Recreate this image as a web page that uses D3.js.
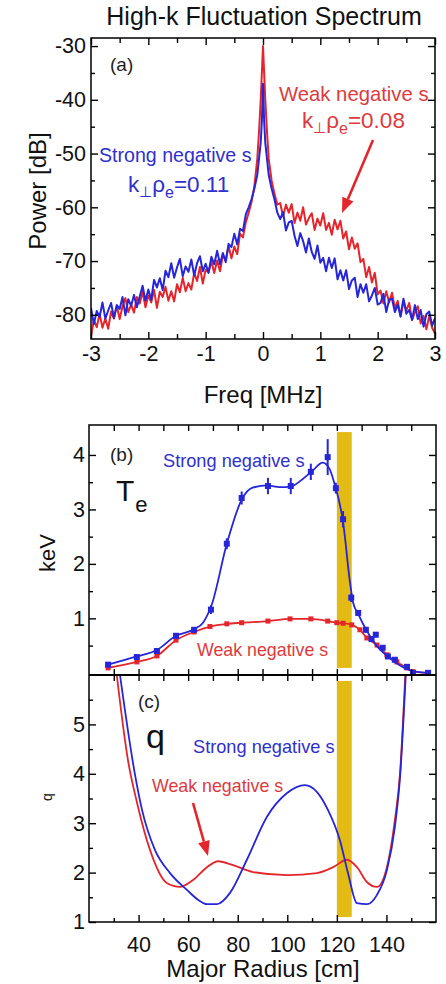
<!DOCTYPE html>
<html>
<head>
<meta charset="utf-8">
<script src="https://cdn.jsdelivr.net/npm/d3@7"></script>
<style>
  body { margin: 0; background: #fff; }
  svg { display: block; font-family: "Liberation Sans", Arial, Helvetica, sans-serif; }
</style>
</head>
<body>
<div id="chart"></div>
<script>
// ---- panel (a): high-k fluctuation spectrum ----
var freq = [
  -3, -2.95, -2.9, -2.85, -2.8, -2.75, -2.7, -2.65, -2.6, -2.55,
  -2.5, -2.45, -2.4, -2.35, -2.3, -2.25, -2.2, -2.15, -2.1, -2.05,
  -2, -1.95, -1.9, -1.85, -1.8, -1.75, -1.7, -1.65, -1.6, -1.55,
  -1.5, -1.45, -1.4, -1.35, -1.3, -1.25, -1.2, -1.15, -1.1, -1.05,
  -1, -0.95, -0.9, -0.85, -0.8, -0.75, -0.7, -0.65, -0.6, -0.55,
  -0.5, -0.45, -0.4, -0.35, -0.3,
  -0.25, -0.2, -0.15, -0.1, -0.07, -0.04, -0.02, 0, 0.02, 0.04, 0.07, 0.1, 0.15, 0.2, 0.25,
  0.3, 0.35, 0.4, 0.45, 0.5, 0.55, 0.6, 0.65, 0.7, 0.75,
  0.8, 0.85, 0.9, 0.95, 1, 1.05, 1.1, 1.15, 1.2, 1.25,
  1.3, 1.35, 1.4, 1.45, 1.5, 1.55, 1.6, 1.65, 1.7, 1.75,
  1.8, 1.85, 1.9, 1.95, 2, 2.05, 2.1, 2.15, 2.2, 2.25,
  2.3, 2.35, 2.4, 2.45, 2.5, 2.55, 2.6, 2.65, 2.7, 2.75,
  2.8, 2.85, 2.9, 2.95, 3
];
// weak negative shear (red)
var powerWeak = [
  -84, -81, -82.3, -79.8, -82.4, -80.7, -82.6, -79.4, -80.7, -78.3,
  -80.8, -78.4, -76.9, -79.5, -78.1, -79.6, -76.7, -77.9, -75.7, -78.6,
  -76.4, -77.7, -75.4, -78.7, -75.7, -76.7, -74.8, -77.4, -75.6, -77.5,
  -74.3, -75.8, -73.1, -75.6, -74.1, -75.3, -72.2, -73.7, -71.1, -74.2,
  -71.6, -72.1, -70.1, -72.2, -69.9, -71.9, -68.9, -69.8, -67.2, -69.5,
  -67.3, -68.7, -64.9, -65.6, -62.8,
  -61, -59, -56, -51, -46, -40, -35, -30, -35, -40, -46, -51, -55, -57.5, -59.5,
  -59.2, -61.7, -59.5, -61, -59.4, -62.9, -61, -62.5, -60, -63.2,
  -62, -61.1, -64.2, -62.1, -63.4, -61.1, -64.2, -62.9, -65.1, -62.3,
  -64.1, -62.5, -65.8, -64.5, -67.8, -65.6, -67.7, -66.7, -70.2, -69.6,
  -73, -71.1, -74, -72.2, -76.2, -75.5, -77.9, -75.6, -77.7, -75.9,
  -78.8, -77.4, -80.3, -77.4, -79.2, -77.8, -81, -79.5, -78.4, -81.6,
  -80.2, -82.7, -80.2, -82.4, -83.5
];
// strong negative shear (blue)
var powerStrong = [
  -78.7, -81.7, -79.3, -80.4, -77.7, -80.7, -79.2, -77.8, -80.6, -78.2,
  -78.9, -76.7, -80.1, -77.1, -78.3, -76.3, -78.6, -76.6, -74.6, -77.4,
  -75.3, -77.2, -73.5, -74.9, -73.2, -75.4, -71.8, -73, -70.4, -73.1,
  -71.2, -69.6, -72.8, -71, -72, -69.7, -72.7, -70.4, -69.1, -71.9,
  -70.5, -72.2, -69.2, -70.6, -68.1, -70.6, -68.5, -70.2, -66.8, -67.4,
  -64.9, -66.9, -64, -64.4, -61.3,
  -60, -58.5, -56.5, -54, -51, -48, -44, -37, -44, -48, -51, -54, -56.5, -58.5, -61,
  -62.2, -60.9, -64.3, -62.8, -62.5, -65.3, -67.2, -64.8, -66.3, -68.4,
  -65.8, -68.3, -69.6, -67.1, -70.3, -69.4, -71.9, -69.4, -71.3, -69.5,
  -73.4, -71.7, -73.6, -71.7, -75.2, -73.6, -73.1, -76.7, -74.3, -75.9,
  -74.3, -77.5, -76.4, -75, -78.1, -77.8, -76.1, -79.5, -77.2, -77,
  -79.5, -78.1, -80.3, -77, -79.8, -79.1, -80.9, -78.2, -80.8, -79.1,
  -82.2, -79.9, -79.4, -82, -80.6
];
var freqMajor = [-3, -2, -1, 0, 1, 2, 3];
var freqMinor = [-2.5, -1.5, -0.5, 0.5, 1.5, 2.5];
var powerMajor = [-80, -70, -60, -50, -40, -30];
var powerMinor = [-75, -65, -55, -45, -35];

// ---- panel (b): electron temperature ----
var teRStrong = [27.7, 39.3, 47.4, 55.1, 62.4, 69.2, 75.6, 81.6, 92.2, 101.4, 109.5, 116.3, 119.6, 122.5, 125.8, 128.6, 131.7, 134, 135.7, 138.5, 140.6, 143.4, 148.3, 150.7, 156.8];
var teStrong = [0.15, 0.29, 0.4, 0.68, 0.79, 1.16, 2.37, 3.21, 3.43, 3.43, 3.69, 3.96, 3.39, 2.82, 1.38, 1.1, 0.79, 0.62, 0.7, 0.46, 0.3, 0.24, 0.11, 0, 0];
var teErrStrong = [0.03, 0.03, 0.04, 0.05, 0.05, 0.08, 0.1, 0.12, 0.15, 0.15, 0.15, 0.33, 0.1, 0.15, 0.08, 0.05, 0.05, 0.05, 0.05, 0.04, 0.03, 0.03, 0.02, 0.02, 0.02];
var fitRStrong = [27.7, 39.3, 47.4, 55.1, 62.4, 66, 69.5, 75.6, 81.6, 86, 92, 97, 101.4, 106, 110, 114.3, 117, 119, 122.5, 125.3, 126.5, 128.6, 131.7, 136, 140.6, 145, 150, 156];
var fitTeStrong = [0.15, 0.3, 0.42, 0.68, 0.8, 0.92, 1.25, 2.37, 3.18, 3.4, 3.44, 3.41, 3.42, 3.55, 3.7, 3.86, 3.75, 3.48, 2.77, 1.66, 1.3, 1.08, 0.8, 0.5, 0.3, 0.15, 0.04, 0];
var teRWeak = [27.7, 39.3, 47.4, 55.1, 62.4, 68.8, 75.6, 81.6, 92.2, 101.1, 109.5, 116.3, 120, 122.5, 126, 129.3, 132.1, 136.2, 140.2, 144.2, 148.3, 150.7, 156.8];
var teWeak = [0.09, 0.2, 0.31, 0.6, 0.75, 0.85, 0.9, 0.92, 0.95, 0.99, 0.99, 0.95, 0.92, 0.91, 0.88, 0.79, 0.64, 0.51, 0.33, 0.2, 0.09, 0.02, 0];
var teMajor = [1, 2, 3, 4];
var teMinor = [0.5, 1.5, 2.5, 3.5];

// ---- panel (c): safety factor q ----
var qRStrong = [32.5, 38.5, 41.4, 46.6, 52.7, 59.5, 64, 67.6, 71.6, 76.9, 83.7, 91.8, 99.9, 107.1, 112, 116.4, 121.2, 124.5, 128.1, 132.1, 136.2, 140.2, 143.4, 145.5, 147.8];
var qStrong = [6, 4, 3.27, 2.46, 1.99, 1.65, 1.45, 1.36, 1.36, 1.59, 2.26, 3.13, 3.61, 3.77, 3.63, 3.27, 2.66, 1.99, 1.38, 1.36, 1.55, 2.05, 2.92, 3.94, 6];
var qRWeak = [31.2, 35.7, 39.4, 44.6, 51.4, 56.7, 62, 67.6, 72.1, 78.2, 86.2, 99.9, 112, 118.5, 124.1, 128.1, 132.1, 136.2, 140.2, 143.4, 145.5, 147.6];
var qWeak = [6, 4.28, 3.41, 2.46, 1.79, 1.71, 1.85, 2.11, 2.23, 2.15, 2.01, 1.95, 1.99, 2.11, 2.26, 2.11, 1.81, 1.71, 2.11, 3.06, 4.02, 6];
var qMajor = [1, 2, 3, 4, 5];
var qMinor = [1.5, 2.5, 3.5, 4.5, 5.5];

var rMajor = [40, 60, 80, 100, 120, 140];
var rMinor = [30, 50, 70, 90, 110, 130, 150];
var rAll = [30, 40, 50, 60, 70, 80, 90, 100, 110, 120, 130, 140, 150];

// highlighted radial band (b: keV extent, c: q extent)
var bandR = [120, 126];
var bandTe = [0.09, 4.42];
var bandQ = [1.1, 5.88];

var RED = "#e4262c", BLUE = "#2626d8", REDTXT = "#de3a3e", BLUETXT = "#3030cc", GOLD = "#e2bb14";

var svg = d3.select("#chart").append("svg").attr("width", 446).attr("height", 984);

var xA = d3.scaleLinear().domain([-3, 3]).range([91, 435]);
var yA = d3.scaleLinear().domain([-84.5, -28.5]).range([339, 38]);
var xR = d3.scaleLinear().domain([20, 160]).range([89, 436]);
var yTe = d3.scaleLinear().domain([-0.04, 4.55]).range([675, 425]);
var yQ = d3.scaleLinear().domain([1, 6]).range([922, 675]);

// helper for the inward tick marks
function ticks(gen, scale, vals, size, fmt, tx, ty, pad) {
  var g = svg.append("g")
    .attr("transform", "translate(" + tx + "," + ty + ")")
    .call(gen(scale).tickValues(vals).tickSizeInner(size).tickSizeOuter(0)
      .tickPadding(pad || 6).tickFormat(fmt || function() { return ""; }));
  g.select(".domain").remove();
  g.attr("font-size", 21.5).attr("font-family", null);
  g.selectAll("line").attr("stroke", "#000").attr("stroke-width", 1.4);
  g.selectAll("text").attr("fill", "#111");
  return g;
}
function label(s) { return String(s); }

function clip(id, x0, y0, x1, y1) {
  svg.append("clipPath").attr("id", id).append("rect")
    .attr("x", x0).attr("y", y0).attr("width", x1 - x0).attr("height", y1 - y0);
}
clip("clipA", 91, 38, 435, 339);
clip("clipB", 89, 425, 436, 675);
clip("clipC", 89, 675, 436, 922);

function arrowHead(x0, y0, x1, y1, color) {
  var a = Math.atan2(y1 - y0, x1 - x0), L = 15, Wd = 6;
  var bx = x1 - L * Math.cos(a), by = y1 - L * Math.sin(a);
  svg.append("line").attr("x1", x0).attr("y1", y0).attr("x2", bx).attr("y2", by)
    .attr("stroke", color).attr("stroke-width", 2.6);
  svg.append("path")
    .attr("d", "M" + x1 + "," + y1 + "L" + (bx + Wd * Math.sin(a)) + "," + (by - Wd * Math.cos(a)) +
      "L" + (bx - Wd * Math.sin(a)) + "," + (by + Wd * Math.cos(a)) + "Z")
    .attr("fill", color);
}

// ================= panel (a) =================
svg.append("text").attr("x", 264).attr("y", 25).attr("text-anchor", "middle")
  .attr("font-size", 25).attr("fill", "#111").text("High-k Fluctuation Spectrum");

var specLine = function(vals) {
  return d3.line().x(function(d, i) { return xA(freq[i]); }).y(function(d) { return yA(d); })(vals);
};
var gA = svg.append("g").attr("clip-path", "url(#clipA)");
gA.append("path").attr("d", specLine(powerWeak)).attr("fill", "none")
  .attr("stroke", RED).attr("stroke-width", 2).attr("stroke-linejoin", "round");
gA.append("path").attr("d", specLine(powerStrong)).attr("fill", "none")
  .attr("stroke", BLUE).attr("stroke-width", 2).attr("stroke-linejoin", "round");

svg.append("rect").attr("x", 91).attr("y", 38).attr("width", 344).attr("height", 301)
  .attr("fill", "none").attr("stroke", "#000").attr("stroke-width", 1.5);
ticks(d3.axisLeft, yA, powerMajor, -7, label, 91, 0, 5);
ticks(d3.axisLeft, yA, powerMinor, -4, null, 91, 0);
ticks(d3.axisRight, yA, powerMajor, -7, null, 435, 0);
ticks(d3.axisRight, yA, powerMinor, -4, null, 435, 0);
ticks(d3.axisBottom, xA, freqMajor, -7, label, 0, 339, 7);
ticks(d3.axisBottom, xA, freqMinor, -5, null, 0, 339);
ticks(d3.axisTop, xA, freqMajor, -7, null, 0, 38);
ticks(d3.axisTop, xA, freqMinor, -5, null, 0, 38);

svg.append("text").attr("transform", "translate(46,191) rotate(-90)").attr("text-anchor", "middle")
  .attr("font-size", 24).attr("fill", "#111").text("Power [dB]");
svg.append("text").attr("x", 263).attr("y", 403).attr("text-anchor", "middle")
  .attr("font-size", 24).attr("fill", "#111").text("Freq [MHz]");

svg.append("text").attr("x", 110).attr("y", 71).attr("font-size", 19).attr("fill", "#222").text("(a)");
svg.append("text").attr("x", 279).attr("y", 101).attr("font-size", 20.3).attr("fill", REDTXT).text("Weak negative s");
svg.append("text").attr("x", 99).attr("y", 162).attr("font-size", 19.6).attr("fill", BLUETXT).text("Strong negative s");

function kRho(x, y, value, color) {
  var t = svg.append("text").attr("x", x).attr("y", y).attr("font-size", 22.5).attr("fill", color);
  t.append("tspan").text("k");
  t.append("tspan").attr("font-size", 15).attr("dy", 5).text("\u22A5");
  t.append("tspan").attr("dy", -5).text("\u03C1");
  t.append("tspan").attr("font-size", 16).attr("dy", 6).text("e");
  t.append("tspan").attr("dy", -6).text("=" + value);
}
kRho(302, 128, "0.08", REDTXT);
kRho(128, 192, "0.11", BLUETXT);
arrowHead(373, 140, 342, 213, RED);

// ================= panel (b) =================
svg.append("rect").attr("x", xR(bandR[0])).attr("width", xR(bandR[1]) - xR(bandR[0]))
  .attr("y", yTe(bandTe[1])).attr("height", yTe(bandTe[0]) - yTe(bandTe[1])).attr("fill", GOLD);

var gB = svg.append("g").attr("clip-path", "url(#clipB)");
var teLine = d3.line().curve(d3.curveMonotoneX);
gB.append("path")
  .attr("d", teLine(teRWeak.map(function(r, i) { return [xR(r), yTe(teWeak[i])]; })))
  .attr("fill", "none").attr("stroke", RED).attr("stroke-width", 1.8);
gB.selectAll(".mw").data(teRWeak).enter().append("rect")
  .attr("x", function(r) { return xR(r) - 2.5; })
  .attr("y", function(r, i) { return yTe(teWeak[i]) - 2.5; })
  .attr("width", 5).attr("height", 5).attr("fill", RED);

gB.append("path")
  .attr("d", teLine(fitRStrong.map(function(r, i) { return [xR(r), yTe(fitTeStrong[i])]; })))
  .attr("fill", "none").attr("stroke", BLUE).attr("stroke-width", 1.8);
gB.selectAll(".eb").data(teRStrong).enter().append("line")
  .attr("x1", function(r) { return xR(r); }).attr("x2", function(r) { return xR(r); })
  .attr("y1", function(r, i) { return yTe(teStrong[i] - teErrStrong[i]); })
  .attr("y2", function(r, i) { return yTe(teStrong[i] + teErrStrong[i]); })
  .attr("stroke", BLUE).attr("stroke-width", 2);
gB.selectAll(".ms").data(teRStrong).enter().append("rect")
  .attr("x", function(r) { return xR(r) - 3; })
  .attr("y", function(r, i) { return yTe(teStrong[i]) - 3; })
  .attr("width", 6).attr("height", 6).attr("fill", BLUE);

svg.append("text").attr("x", 110).attr("y", 461).attr("font-size", 19).attr("fill", "#222").text("(b)");
var te = svg.append("text").attr("x", 116).attr("y", 501).attr("font-size", 30).attr("fill", "#111");
te.append("tspan").text("T");
te.append("tspan").attr("font-size", 22).attr("dy", 11).attr("dx", 1).text("e");
svg.append("text").attr("x", 163).attr("y", 467).attr("font-size", 18.2).attr("fill", BLUETXT).text("Strong negative s");
svg.append("text").attr("x", 197).attr("y", 656).attr("font-size", 17.8).attr("fill", REDTXT).text("Weak negative s");
svg.append("text").attr("transform", "translate(55,553) rotate(-90)").attr("text-anchor", "middle")
  .attr("font-size", 22).attr("fill", "#111").text("keV");

// ================= panel (c) =================
svg.append("rect").attr("x", xR(bandR[0])).attr("width", xR(bandR[1]) - xR(bandR[0]))
  .attr("y", yQ(bandQ[1])).attr("height", yQ(bandQ[0]) - yQ(bandQ[1])).attr("fill", GOLD);

var gC = svg.append("g").attr("clip-path", "url(#clipC)");
gC.append("path")
  .attr("d", teLine(qRWeak.map(function(r, i) { return [xR(r), yQ(qWeak[i])]; })))
  .attr("fill", "none").attr("stroke", RED).attr("stroke-width", 1.8);
gC.append("path")
  .attr("d", teLine(qRStrong.map(function(r, i) { return [xR(r), yQ(qStrong[i])]; })))
  .attr("fill", "none").attr("stroke", BLUE).attr("stroke-width", 1.8);

svg.append("text").attr("x", 138).attr("y", 708).attr("font-size", 19).attr("fill", "#222").text("(c)");
svg.append("text").attr("x", 146).attr("y", 748).attr("font-size", 34).attr("fill", "#111").text("q");
svg.append("text").attr("x", 193).attr("y", 753).attr("font-size", 18.2).attr("fill", BLUETXT).text("Strong negative s");
svg.append("text").attr("x", 152).attr("y", 792).attr("font-size", 17.8).attr("fill", REDTXT).text("Weak negative s");
arrowHead(193, 803, 208, 856, RED);
svg.append("text").attr("transform", "translate(52,797) rotate(-90)").attr("text-anchor", "middle")
  .attr("font-size", 14).attr("fill", "#111").text("q");
svg.append("text").attr("x", 263).attr("y", 977).attr("text-anchor", "middle")
  .attr("font-size", 24).attr("fill", "#111").text("Major Radius [cm]");

// frames and ticks for (b) and (c)
svg.append("rect").attr("x", 89).attr("y", 425).attr("width", 347).attr("height", 497)
  .attr("fill", "none").attr("stroke", "#000").attr("stroke-width", 1.5);
svg.append("line").attr("x1", 89).attr("x2", 436).attr("y1", 675).attr("y2", 675)
  .attr("stroke", "#000").attr("stroke-width", 2);

ticks(d3.axisLeft, yTe, teMajor, -7, label, 89, 0, 4);
ticks(d3.axisLeft, yTe, teMinor, -4, null, 89, 0);
ticks(d3.axisRight, yTe, teMajor, -7, null, 436, 0);
ticks(d3.axisRight, yTe, teMinor, -4, null, 436, 0);
ticks(d3.axisTop, xR, rAll, -6, null, 0, 425);
ticks(d3.axisBottom, xR, rAll, -6, null, 0, 675);
ticks(d3.axisTop, xR, rAll, -6, null, 0, 675);

ticks(d3.axisLeft, yQ, qMajor, -7, label, 89, 0, 4);
ticks(d3.axisLeft, yQ, qMinor, -4, null, 89, 0);
ticks(d3.axisRight, yQ, qMajor, -7, null, 436, 0);
ticks(d3.axisRight, yQ, qMinor, -4, null, 436, 0);
ticks(d3.axisBottom, xR, rMajor, -7, label, 0, 922, 15);
ticks(d3.axisBottom, xR, rMinor, -4, null, 0, 922);
</script>
</body>
</html>
